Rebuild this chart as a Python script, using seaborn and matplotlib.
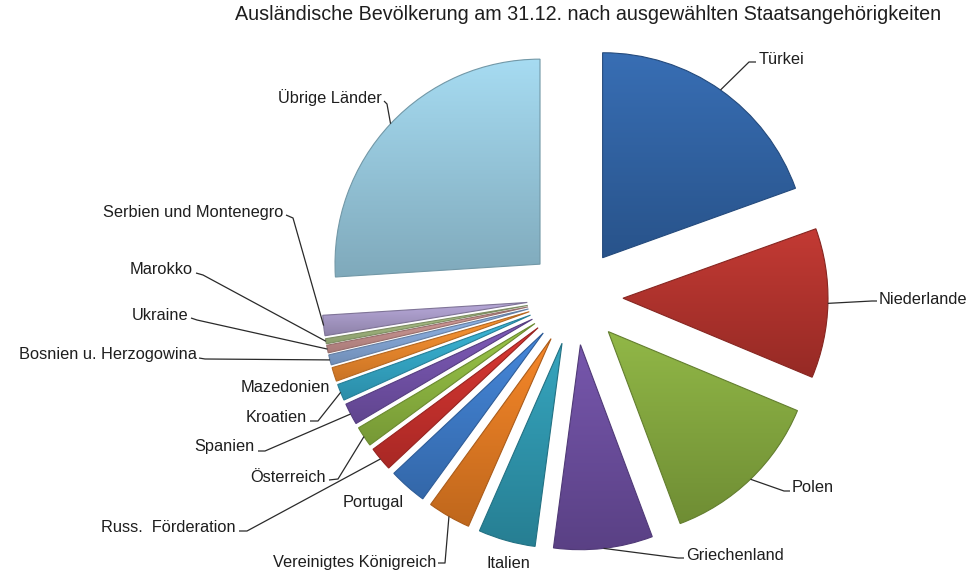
import numpy as np
import matplotlib
matplotlib.use("Agg")
import matplotlib.pyplot as plt
import matplotlib.colors as mcolors
import seaborn as sns

# Anteile der Staatsangehörigkeiten (in %)
countries = ["Türkei", "Niederlande", "Polen", "Griechenland", "Italien",
             "Vereinigtes Königreich", "Portugal", "Russ.  Förderation",
             "Österreich", "Spanien", "Kroatien", "Mazedonien",
             "Bosnien u. Herzogowina", "Ukraine", "Marokko",
             "Serbien und Montenegro", "Übrige Länder"]
shares = [19.5, 11.8, 13.0, 7.8, 4.5, 3.4, 3.0, 1.9, 1.6, 1.7, 1.3, 1.1,
          0.8, 0.6, 0.4, 1.6, 26.0]
slice_colors = ["#3063A5", "#B3322C", "#84A83E", "#6B4D9E", "#2E97AF",
                "#E47B22", "#3D7BC9", "#C9302C", "#8DB640", "#7352AA",
                "#34A9C9", "#F18A2C", "#86A9DA", "#C99390", "#A6BC82",
                "#A99BC9", "#98CADF"]
title = "Ausländische Bevölkerung am 31.12. nach ausgewählten Staatsangehörigkeiten"

W, H = 979, 574

sns.set_theme(style="white")
plt.rcParams["font.family"] = ["Liberation Sans", "DejaVu Sans"]
palette = sns.color_palette(slice_colors)

fig = plt.figure(figsize=(W / 100, H / 100), dpi=100)
ax = fig.add_axes([0, 0, 1, 1])

# pie centre and radius in pixel units; every slice pulled out by 48 px
cx, cy, R = 575, H - 297, 205
explode = [48] * len(shares)
wedges, _ = ax.pie(shares, colors=palette, startangle=90, counterclock=False,
                   center=(cx, cy), radius=R, explode=explode,
                   wedgeprops=dict(linewidth=0.8))

# vertical light-to-dark gradient inside each slice
for w, col in zip(wedges, palette):
    base = np.array(mcolors.to_rgb(col))
    dark = np.clip(base * 0.84, 0, 1)
    light = np.clip(base * 1.06 + 0.02, 0, 1)
    t = np.linspace(0, 1, 64)[:, None]
    grad = dark[None, :] * (1 - t) + light[None, :] * t
    img = np.repeat(grad[:, None, :], 2, axis=1)
    verts = w.get_path().vertices
    x0, x1 = verts[:, 0].min(), verts[:, 0].max()
    y0, y1 = verts[:, 1].min(), verts[:, 1].max()
    im = ax.imshow(img, extent=[x0, x1, y0, y1], origin="lower",
                   aspect="auto", interpolation="bilinear", zorder=2)
    im.set_clip_path(w)
    w.set_facecolor("none")
    w.set_edgecolor(tuple(np.clip(base * 0.75, 0, 1)))
    w.set_zorder(3)

# label layout: text position (x, y from top), alignment, leader bend points
layout = {
    "Türkei": ((759, 59), "left", [(749, 62), (756, 62)]),
    "Niederlande": ((879, 299), "left", [(872, 301), (877, 301)]),
    "Polen": ((792, 488), "left", [(784, 491), (790, 491)]),
    "Griechenland": ((686, 555), "left", [(678, 558), (684, 558)]),
    "Italien": ((508, 563), "center", None),
    "Vereinigtes Königreich": ((436, 563), "right", [(445, 563), (438, 563)]),
    "Portugal": ((343, 503), "left", None),
    "Russ.  Förderation": ((236, 528), "right", [(247, 531), (239, 531)]),
    "Österreich": ((326, 477), "right", [(338, 479), (329, 480)]),
    "Spanien": ((255, 447), "right", [(265, 451), (258, 451)]),
    "Kroatien": ((307, 418), "right", [(318, 421), (310, 421)]),
    "Mazedonien": ((330, 388), "right", None),
    "Bosnien u. Herzogowina": ((197, 355), "right", [(205, 359), (199, 358)]),
    "Ukraine": ((188, 315), "right", [(197, 320), (191, 318)]),
    "Marokko": ((193, 270), "right", [(203, 275), (196, 273)]),
    "Serbien und Montenegro": ((283, 212), "right", [(293, 218), (286, 215)]),
    "Übrige Länder": ((382, 98), "right", [(387, 104), (384, 101)]),
}

for w, name in zip(wedges, countries):
    (tx, ty), ha, bends = layout[name]
    ax.text(tx, H - ty, name, ha=ha, va="center", fontsize=11.8,
            color="#1e1e1e", zorder=5)
    if bends:
        mid = np.deg2rad((w.theta1 + w.theta2) / 2)
        ax0 = w.center[0] + w.r * np.cos(mid)
        ay0 = w.center[1] + w.r * np.sin(mid)
        xs = [ax0] + [p[0] for p in bends]
        ys = [ay0] + [H - p[1] for p in bends]
        ax.plot(xs, ys, color="#2a2a2a", lw=0.9, zorder=4,
                solid_capstyle="butt")

ax.text(588, H - 14, title, ha="center", va="center", fontsize=14.2,
        color="#1e1e1e")

ax.set_xlim(0, W)
ax.set_ylim(0, H)
ax.set_aspect("auto")
ax.axis("off")

fig.savefig("out.png", dpi=100, facecolor="white")
